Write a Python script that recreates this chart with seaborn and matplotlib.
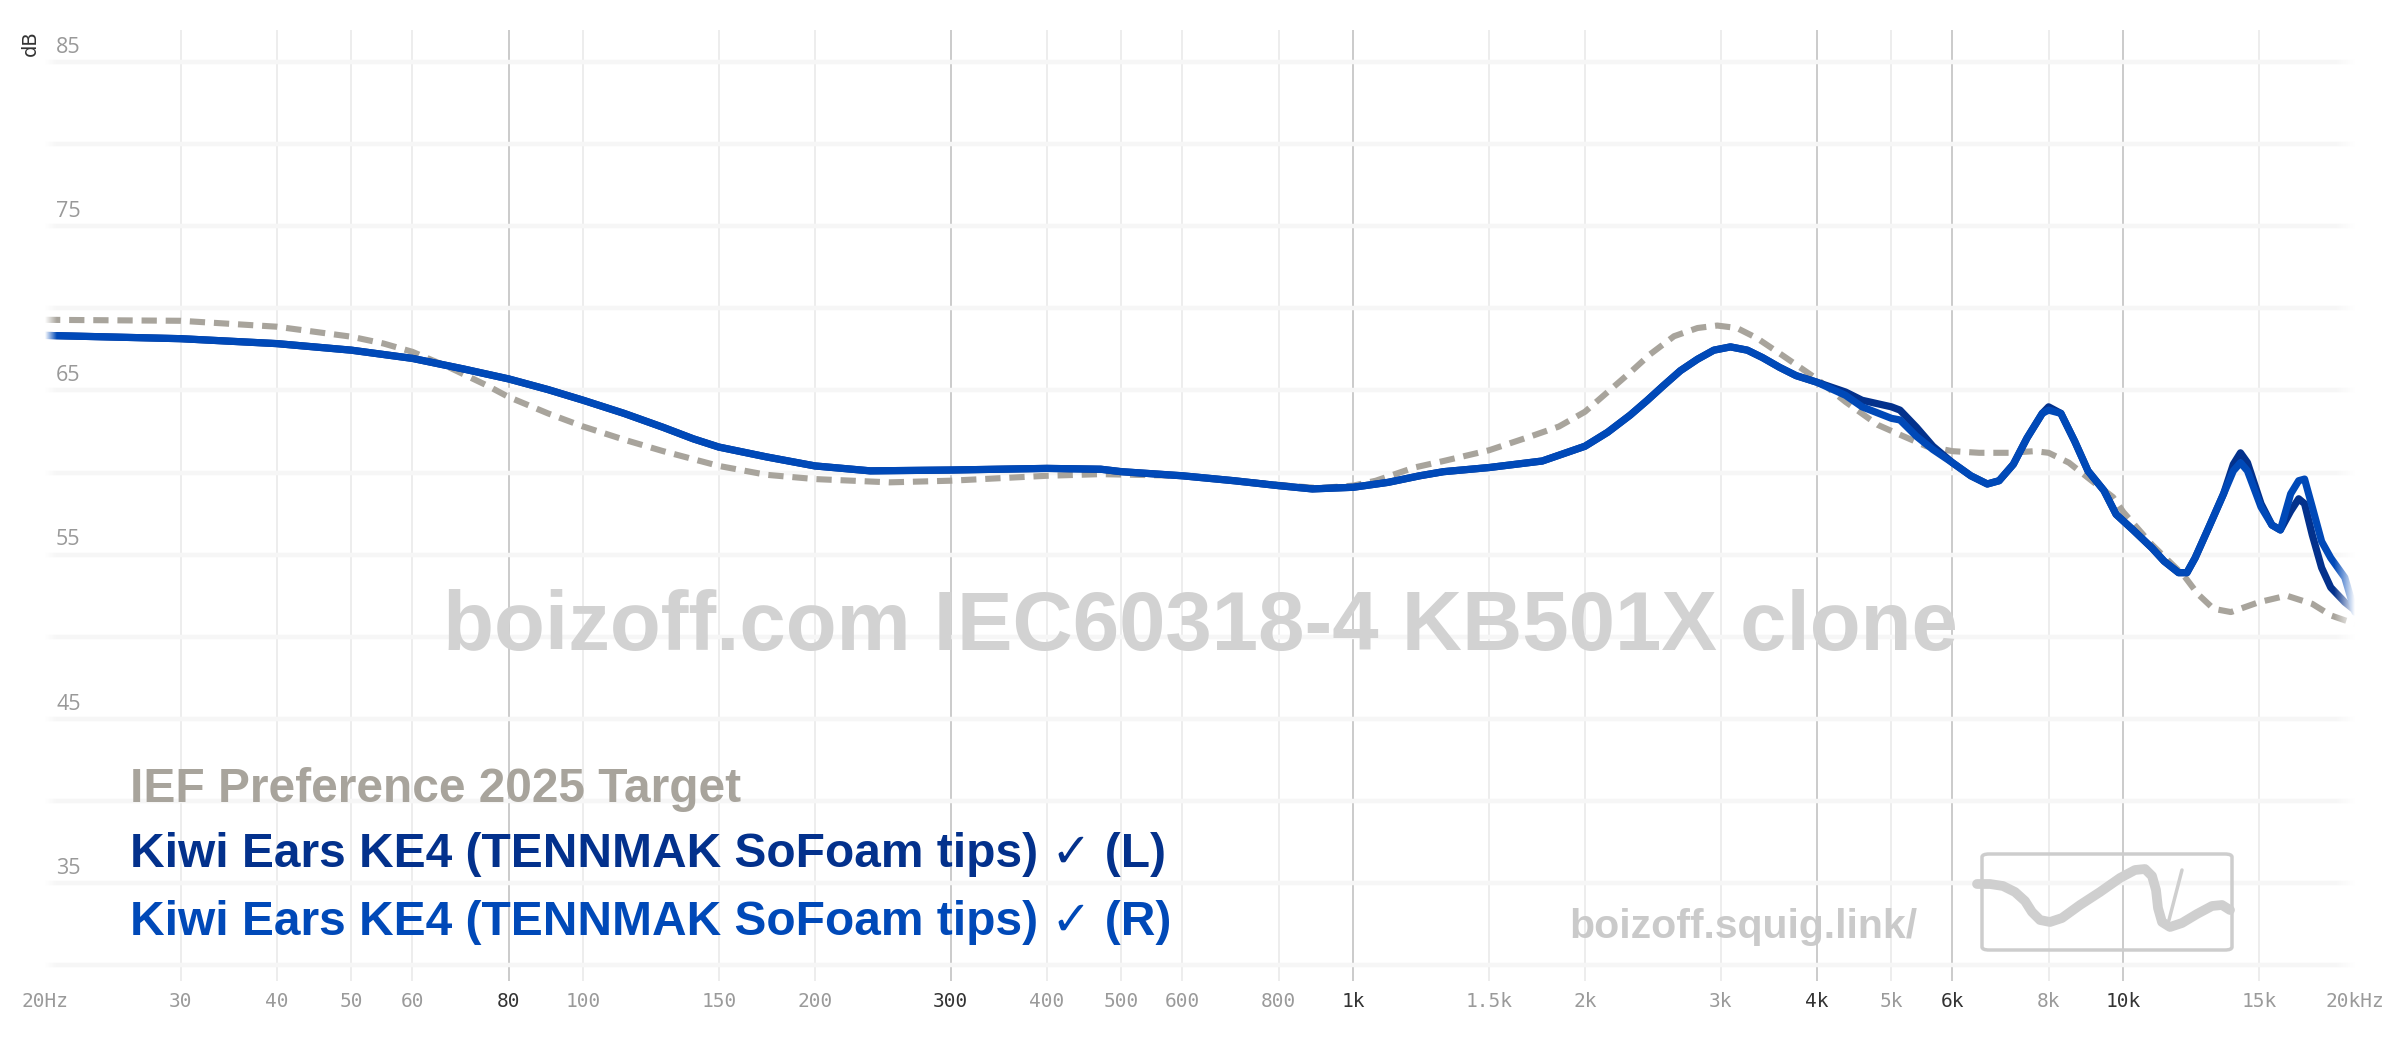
import numpy as np
import pandas as pd
import matplotlib.pyplot as plt
import seaborn as sns
from matplotlib.patches import FancyBboxPatch
from matplotlib.lines import Line2D

# frequency response readings (Hz, dB)
freq = [20, 30, 40, 50, 60, 70, 80, 90, 100, 113, 127, 139, 150, 173, 200, 236, 300, 400, 470,
        500, 600, 700, 800, 885, 1000, 1110, 1220, 1310, 1500, 1760, 2000, 2140, 2290, 2410,
        2530, 2660, 2800, 2940, 3090, 3250, 3400, 3580, 3760, 4000, 4360, 4580, 5000, 5130,
        5390, 5660, 6000, 6340, 6660, 6900, 7200, 7500, 7850, 8000, 8300, 8650, 9000, 9440,
        9790, 10300, 10900, 11300, 11800, 12100, 12400, 12900, 13500, 13900, 14200, 14500,
        15100, 15600, 16000, 16500, 16900, 17200, 17600, 18100, 18600, 19400, 20000]
left_db = [68.35, 68.15, 67.85, 67.45, 66.95, 66.3, 65.7, 65.05, 64.4, 63.6,
           62.75, 62.05, 61.55, 60.95, 60.4, 60.1, 60.15, 60.25, 60.2, 60.05,
           59.8, 59.5, 59.2, 59.0, 59.1, 59.4, 59.8, 60.05, 60.3, 60.7,
           61.6, 62.45, 63.5, 64.4, 65.3, 66.2, 66.9, 67.45, 67.65, 67.45,
           67.0, 66.4, 65.9, 65.5, 64.9, 64.4, 64.0, 63.8, 62.75, 61.6,
           60.6, 59.8, 59.3, 59.5, 60.5, 62.1, 63.6, 64.0, 63.6, 61.9,
           60.1, 58.9, 57.45, 56.5, 55.4, 54.6, 53.9, 53.9, 54.8, 56.6,
           58.7, 60.5, 61.2, 60.6, 58.1, 56.8, 56.5, 57.65, 58.4, 58.1,
           56.2, 54.2, 53.0, 52.1, 51.6]
right_db = [68.35, 68.15, 67.85, 67.45, 66.95, 66.3, 65.7, 65.05, 64.4, 63.6,
            62.75, 62.05, 61.55, 60.95, 60.4, 60.1, 60.15, 60.25, 60.2, 60.05,
            59.8, 59.5, 59.2, 59.0, 59.1, 59.4, 59.8, 60.05, 60.3, 60.7,
            61.6, 62.45, 63.5, 64.4, 65.3, 66.2, 66.9, 67.45, 67.65, 67.45,
            67.0, 66.4, 65.9, 65.5, 64.7, 64.0, 63.3, 63.2, 62.2, 61.4,
            60.6, 59.8, 59.3, 59.5, 60.5, 62.1, 63.6, 63.8, 63.6, 61.9,
            60.1, 58.9, 57.45, 56.5, 55.4, 54.6, 53.9, 53.9, 54.8, 56.6,
            58.7, 60.1, 60.6, 60.1, 57.9, 56.8, 56.5, 58.7, 59.5, 59.6,
            57.9, 55.8, 54.8, 53.6, 51.5]

target_freq = [20, 30, 40, 50, 55, 60, 67, 75, 80, 90, 100, 113, 127, 150, 173, 200, 250, 300,
               400, 470, 600, 700, 800, 900, 1000, 1070, 1200, 1310, 1500, 1700, 1850, 2000,
               2140, 2290, 2430, 2610, 2800, 2970, 3150, 3340, 3580, 4000, 4360, 4800, 5130,
               5550, 6000, 6500, 7100, 7670, 8000, 8500, 9100, 9700, 10000, 10900, 12000, 12500,
               13100, 13800, 15000, 16300, 17600, 18600, 19400, 20000]
target_db = [69.3, 69.24, 68.88, 68.27, 67.86, 67.35, 66.4, 65.3, 64.6, 63.6,
             62.8, 62.0, 61.3, 60.4, 59.86, 59.6, 59.4, 59.5, 59.8, 59.9,
             59.8, 59.5, 59.25, 59.05, 59.2, 59.5, 60.3, 60.7, 61.35, 62.2,
             62.8, 63.7, 64.9, 66.1, 67.2, 68.3, 68.8, 68.95, 68.8, 68.2,
             67.25, 65.7, 64.3, 62.9, 62.3, 61.6, 61.3, 61.2, 61.2, 61.3,
             61.2, 60.6, 59.5, 58.5, 57.6, 55.6, 53.7, 52.6, 51.7, 51.5,
             52.1, 52.5, 52.0, 51.3, 51.0, 50.8]

# axis ticks
dark_ticks = [80, 300, 1000, 4000, 6000, 10000]
dark_labels = ['80', '300', '1k', '4k', '6k', '10k']
light_ticks = [20, 30, 40, 50, 60, 100, 150, 200, 400, 500, 600, 800, 1500, 2000, 3000, 5000,
               8000, 15000, 20000]
light_labels = ['20Hz', '30', '40', '50', '60', '100', '150', '200', '400', '500', '600', '800',
                '1.5k', '2k', '3k', '5k', '8k', '15k', '20kHz']
db_grid = [30, 35, 40, 45, 50, 55, 60, 65, 70, 75, 80, 85]
db_labels = [35, 45, 55, 65, 75, 85]

names = ['IEF Preference 2025 Target',
         'Kiwi Ears KE4 (TENNMAK SoFoam tips) \u2713 (L)',
         'Kiwi Ears KE4 (TENNMAK SoFoam tips) \u2713 (R)']
colors = ['#a8a49c', '#03318c', '#0049b8']

sns.set_theme(style='white')
plt.rcParams['font.family'] = ['Liberation Sans', 'DejaVu Sans']

fig = plt.figure(figsize=(24, 10.38), dpi=100)
ax = fig.add_axes([0.01875, 0.0549, 0.9625, 0.9162])

target = pd.DataFrame({'freq': target_freq, 'db': target_db})
kiwi = pd.DataFrame({'freq': freq, 'L': left_db, 'R': right_db})

sns.lineplot(data=target, x='freq', y='db', ax=ax, color=colors[0], lw=4.4,
             linestyle=(0, (2.5, 1.45)), zorder=3)
sns.lineplot(data=kiwi, x='freq', y='L', ax=ax, color=colors[1], lw=5.2, zorder=4)
sns.lineplot(data=kiwi, x='freq', y='R', ax=ax, color=colors[2], lw=5.2, zorder=4)

ax.set_xscale('log')
ax.set_xlabel('')
ax.set_ylabel('')

ax.set_xticks(dark_ticks, dark_labels)
ax.set_xticks(light_ticks, light_labels, minor=True)
ax.set_yticks(db_grid, [''] * len(db_grid))
ax.tick_params(axis='x', which='both', length=0, pad=8, labelsize=14,
               labelfontfamily='DejaVu Sans Mono')
ax.tick_params(axis='x', which='major', labelcolor='#333333')
ax.tick_params(axis='x', which='minor', labelcolor='#9a9a9a')
ax.tick_params(axis='y', length=0)
ax.grid(axis='x', which='major', color='#bdbdbd', lw=1.1)
ax.grid(axis='x', which='minor', color='#e8e8e8', lw=1.1)
ax.grid(axis='y', which='major', color='#f6f6f6', lw=3.2)
for t in ax.xaxis.get_minor_ticks():
    if t.get_loc() in (20, 20000):
        t.gridline.set_visible(False)
for s in ax.spines.values():
    s.set_visible(False)

for v in db_labels:
    ax.text(0.0048, v + 0.25, str(v), transform=ax.get_yaxis_transform(), ha='left',
            va='bottom', fontsize=15.5, color='#999999', family='Open Sans', zorder=7)

# fade at both ends of the curves
fade = np.ones((2, 64, 4))
fade[..., 3] = np.linspace(0, 1, 64)
ax.imshow(fade, extent=(0.991, 1.0, 0, 1), transform=ax.transAxes, aspect='auto', zorder=6)
ax.imshow(fade[:, ::-1], extent=(0.0, 0.005, 0, 1), transform=ax.transAxes, aspect='auto', zorder=6)
ax.set_xlim(20, 20000)
ax.set_ylim(29.03, 86.95)

fig.text(30 / 2400, 1 - 43 / 1038, 'dB', rotation=90, ha='center', va='center', fontsize=14,
         color='#333333', family='DejaVu Sans')

ax.text(0.5, 0.348, 'boizoff.com IEC60318-4 KB501X clone', transform=ax.transAxes,
        ha='center', va='baseline', fontsize=60, fontweight='bold', color='#d2d2d2', zorder=2)

fig.text(1569 / 2400, 1 - 938 / 1038, 'boizoff.squig.link/', ha='left', va='baseline',
         fontsize=29.5, fontweight='bold', color='#cacaca')

for name, col, yb in zip(names, colors, [802, 867, 935]):
    fig.text(130 / 2400, 1 - yb / 1038, name, ha='left', va='baseline', fontsize=34.5,
             fontweight='bold', color=col, family=['Liberation Sans', 'DejaVu Sans'])

# squig.link logo
fig.add_artist(FancyBboxPatch((1982 / 2400, 1 - 950 / 1038), 250 / 2400, 96 / 1038,
                              boxstyle='round,pad=0,rounding_size=0.003', fill=False,
                              ec='#cdcdcd', lw=2.5, transform=fig.transFigure))
sx = [1977, 1990, 2003, 2015, 2025, 2032, 2040, 2050, 2062, 2080, 2100, 2120, 2135, 2145,
      2152, 2156, 2158, 2162, 2170, 2182, 2197, 2212, 2222, 2230]
sy = [884, 884, 886, 892, 901, 912, 920, 922, 918, 905, 892, 878, 870, 869,
      876, 890, 908, 922, 927, 923, 914, 906, 905, 910]
fig.add_artist(Line2D([x / 2400 for x in sx], [1 - y / 1038 for y in sy], color='#cfcfcf',
                      lw=7, solid_capstyle='round', solid_joinstyle='round',
                      transform=fig.transFigure))
fig.add_artist(Line2D([2182 / 2400, 2169 / 2400], [1 - 870 / 1038, 1 - 920 / 1038],
                      color='#cfcfcf', lw=2.5, transform=fig.transFigure))

fig.savefig('out.png', dpi=100)
